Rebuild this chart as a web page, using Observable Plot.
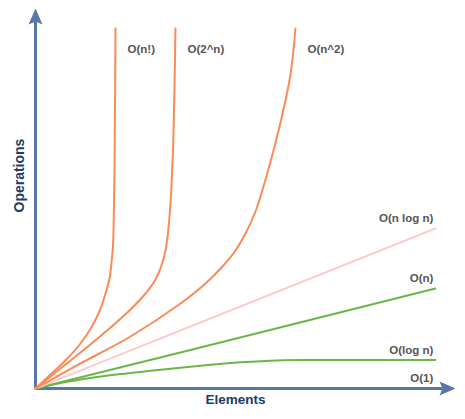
<!DOCTYPE html>
<html>
<head>
<meta charset="utf-8">
<script src="https://cdn.jsdelivr.net/npm/d3@7"></script>
<script src="https://cdn.jsdelivr.net/npm/@observablehq/plot@0.6"></script>
<style>
  html, body { margin: 0; padding: 0; background: #fff; }
  #chart svg { display: block; }
</style>
</head>
<body>
<div id="chart"></div>
<script>
// ---- data (x = elements, y = operations, both 0..100) ----
const seriesNames = ["O(1)", "O(log n)", "O(n)", "O(n log n)", "O(n^2)", "O(2^n)", "O(n!)"];

const o1X = [0, 95.2];
const o1Y = [0, 0];

const logNX = [0, 5.95, 13.1, 20.2, 27.4, 34.5, 41.7, 48.8, 55.95, 63.1, 95.2];
const logNY = [0, 1.45, 2.76, 3.8, 4.66, 5.45, 6.24, 6.89, 7.32, 7.47, 7.5];

const nX = [0, 34.5, 95.2];
const nY = [0, 9.47, 26.3];

const nLogNX = [0, 34.5, 95.2];
const nLogNY = [0, 15.26, 42.1];

const n2X = [0, 10.71, 22.62, 34.52, 40.48, 44.52, 47.62, 50.0, 52.38, 55.24, 58.33, 60.71, 61.9];
const n2Y = [0, 6.58, 13.68, 22.37, 27.63, 32.11, 36.32, 40.79, 46.58, 56.84, 70.0, 82.63, 94.74];

const exp2X = [0, 5.95, 11.9, 17.86, 22.62, 26.19, 28.57, 30.0, 30.95, 31.55, 32.02, 32.38, 32.74, 32.98, 33.33];
const exp2Y = [0, 5.26, 10.5, 16.05, 20.79, 25.0, 28.68, 32.37, 36.32, 41.05, 46.84, 53.42, 62.63, 73.16, 94.74];

const factX = [0, 3.57, 7.14, 10.71, 13.57, 15.48, 16.67, 17.62, 18.1, 18.45, 18.64, 18.81, 19.05];
const factY = [0, 3.68, 7.37, 11.84, 16.58, 21.05, 25.0, 28.95, 33.16, 37.63, 45.53, 57.37, 94.74];

const xDomain = [0, 100];
const yDomain = [0, 100];
const xTitle = "Elements";
const yTitle = "Operations";
const topLabelled = ["O(n^2)", "O(2^n)", "O(n!)"];

// ---- build table ----
const xs = [o1X, logNX, nX, nLogNX, n2X, exp2X, factX];
const ys = [o1Y, logNY, nY, nLogNY, n2Y, exp2Y, factY];
const rows = seriesNames.flatMap((s, i) => xs[i].map((x, j) => ({series: s, x, y: ys[i][j]})));

const colorRange = ["#6cb548", "#6cb548", "#6cb548", "#ffcccb", "#fb8b56", "#fb8b56", "#fb8b56"];

const axisColor = "#5677a8";
const font = "'Liberation Sans', Arial, Helvetica, sans-serif";

// custom arrowheads (tip at the anchor point)
const arrowUp = {draw(ctx) { ctx.moveTo(0, 0); ctx.lineTo(7, 16); ctx.lineTo(0, 13); ctx.lineTo(-7, 16); ctx.closePath(); }};
const arrowRight = {draw(ctx) { ctx.moveTo(0, 0); ctx.lineTo(-16, 7); ctx.lineTo(-13, 0); ctx.lineTo(-16, -7); ctx.closePath(); }};

const chart = Plot.plot({
  width: 465,
  height: 419,
  marginLeft: 35,
  marginRight: 10,
  marginTop: 8,
  marginBottom: 31,
  style: {fontFamily: font, background: "#fff"},
  x: {domain: xDomain, axis: null},
  y: {domain: yDomain, axis: null},
  color: {domain: seriesNames, range: colorRange},
  marks: [
    Plot.line(rows.filter(d => d.series === "O(1)"), {x: "x", y: "y", stroke: "series", strokeWidth: 2}),
    // axes
    Plot.ruleX([xDomain[0]], {y1: yDomain[0], y2: yDomain[1] - 3, stroke: axisColor, strokeWidth: 3}),
    Plot.ruleY([yDomain[0]], {x1: xDomain[0], x2: xDomain[1] - 3, stroke: axisColor, strokeWidth: 3}),
    Plot.dot([{x: xDomain[0], y: yDomain[1]}], {x: "x", y: "y", symbol: arrowUp, fill: axisColor, stroke: "none", r: 8}),
    Plot.dot([{x: xDomain[1], y: yDomain[0]}], {x: "x", y: "y", symbol: arrowRight, fill: axisColor, stroke: "none", r: 8}),
    // curves
    Plot.line(rows.filter(d => d.series !== "O(1)"), {x: "x", y: "y", z: "series", stroke: "series", strokeWidth: 2, curve: "catmull-rom"}),
    // labels
    Plot.text(rows.filter(d => topLabelled.includes(d.series)), Plot.selectLast({
      x: "x", y: "y", z: "series", text: "series", textAnchor: "start", dx: 12, dy: 21,
      fill: "#555", fontWeight: "bold", fontSize: 11.5
    })),
    Plot.text(rows.filter(d => !topLabelled.includes(d.series)), Plot.selectLast({
      x: "x", y: "y", z: "series", text: "series", textAnchor: "end", dx: -2, dy: -10,
      fill: "#555", fontWeight: "bold", fontSize: 11.5
    })),
    // axis titles
    Plot.text([yTitle], {frameAnchor: "left", text: d => d, rotate: -90, dx: -15.5, dy: 14, fill: "#243b66", fontWeight: "bold", fontSize: 14}),
    Plot.text([xTitle], {frameAnchor: "bottom", text: d => d, dx: -10, dy: 15, fill: "#243b66", fontWeight: "bold", fontSize: 13.5})
  ]
});

document.getElementById("chart").appendChild(chart);
</script>
</body>
</html>
